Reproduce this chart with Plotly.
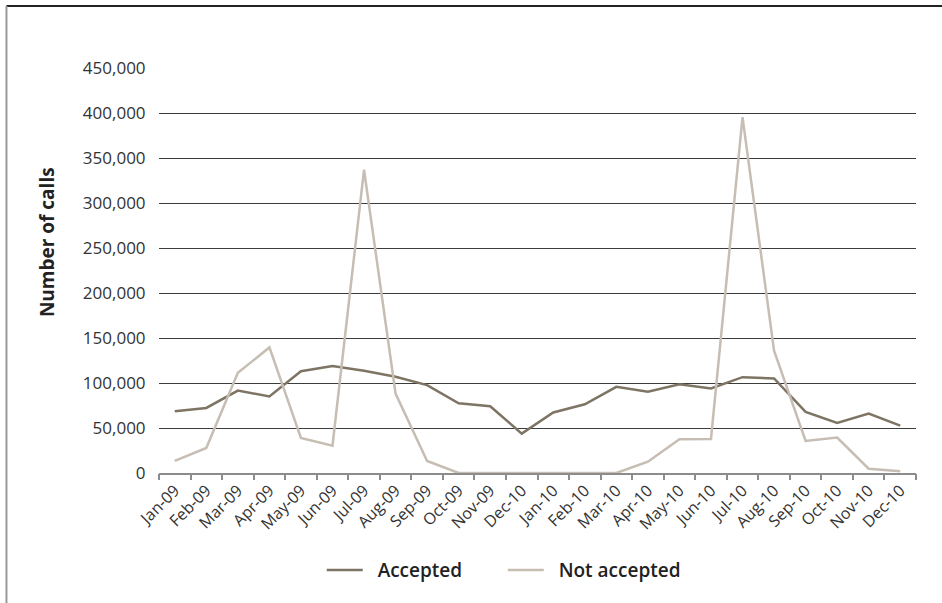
import plotly.graph_objects as go

# Monthly call volumes
months = ["Jan-09", "Feb-09", "Mar-09", "Apr-09", "May-09", "Jun-09", "Jul-09", "Aug-09",
          "Sep-09", "Oct-09", "Nov-09", "Dec-10", "Jan-10", "Feb-10", "Mar-10", "Apr-10",
          "May-10", "Jun-10", "Jul-10", "Aug-10", "Sep-10", "Oct-10", "Nov-10", "Dec-10"]
accepted = [68600, 72300, 91600, 85000, 113000, 119000, 113500, 107000,
            97600, 77500, 74200, 43800, 67200, 76400, 95700, 90200,
            98700, 93900, 106500, 105000, 67900, 55700, 66000, 52700]
not_accepted = [13400, 27800, 111300, 139500, 39000, 30400, 336900, 88300,
                13400, 0, 0, 0, 0, 0, 0, 12600,
                37500, 37800, 395500, 135800, 35600, 39300, 4800, 1900]
y_ticks = [0, 50000, 100000, 150000, 200000, 250000, 300000, 350000, 400000, 450000]

idx = list(range(len(months)))
boundaries = [i - 0.5 for i in range(len(months) + 1)]

ACC = "#7e7464"
NOT = "#c6bdb3"
FONT = "Open Sans"
PAD = "\u00a0\u00a0"

fig = go.Figure()
fig.add_trace(go.Scatter(x=idx, y=accepted, mode="lines", name=PAD + "Accepted",
                         line=dict(color=ACC, width=2.5)))
fig.add_trace(go.Scatter(x=idx, y=not_accepted, mode="lines", name=PAD + "Not accepted",
                         line=dict(color=NOT, width=2.5)))
# invisible helper trace so the boundary-tick axis is drawn
fig.add_trace(go.Scatter(x=[boundaries[0], boundaries[-1]], y=[0, 0], xaxis="x2",
                         mode="lines", line=dict(width=0), showlegend=False,
                         hoverinfo="skip"))

xr = [boundaries[0], boundaries[-1]]
fig.update_layout(
    width=942, height=603,
    margin=dict(l=159, r=26, t=68, b=130),
    paper_bgcolor="white", plot_bgcolor="white",
    font=dict(family=FONT, color="#333333"),
    xaxis=dict(range=xr, tickmode="array", tickvals=idx, ticktext=months,
               tickangle=-45, ticks="", showgrid=False, zeroline=False,
               showline=True, linecolor="#8c8c8c", linewidth=2,
               tickfont=dict(size=16, color="#333333", family=FONT)),
    xaxis2=dict(range=xr, overlaying="x", anchor="y", side="bottom",
                tickmode="array", tickvals=boundaries, showticklabels=False,
                ticks="outside", ticklen=6, tickwidth=1.5, tickcolor="#8c8c8c",
                showgrid=False, zeroline=False, showline=False),
    yaxis=dict(range=[0, 450000], tickmode="array", tickvals=y_ticks,
               tickformat=",", showgrid=True, gridcolor="#3c3c3c", gridwidth=1,
               zeroline=False, showline=False, ticks="outside", ticklen=9,
               tickcolor="rgba(0,0,0,0)",
               tickfont=dict(size=17, color="#333333", family=FONT)),
    showlegend=True,
    legend=dict(orientation="h", x=0.215, xanchor="left", y=-0.24, yanchor="middle",
                font=dict(size=19, color="#222222", family=FONT, weight=600),
                itemwidth=36, entrywidth=130, entrywidthmode="pixels",
                bgcolor="rgba(0,0,0,0)"),
    annotations=[dict(text="<b>Number of calls</b>", xref="paper", yref="paper",
                      x=-0.148, y=0.57, xanchor="center", yanchor="middle",
                      textangle=-90, showarrow=False,
                      font=dict(size=19, color="#222222", family=FONT))],
    shapes=[
        dict(type="line", xref="paper", yref="paper", x0=-0.2015, x1=1.04,
             y0=1.153, y1=1.153, line=dict(color="#222222", width=2)),
        dict(type="line", xref="paper", yref="paper", x0=-0.2015, x1=-0.2015,
             y0=1.153, y1=-0.33, line=dict(color="#999999", width=2)),
    ],
)

fig.write_html("out.html")
